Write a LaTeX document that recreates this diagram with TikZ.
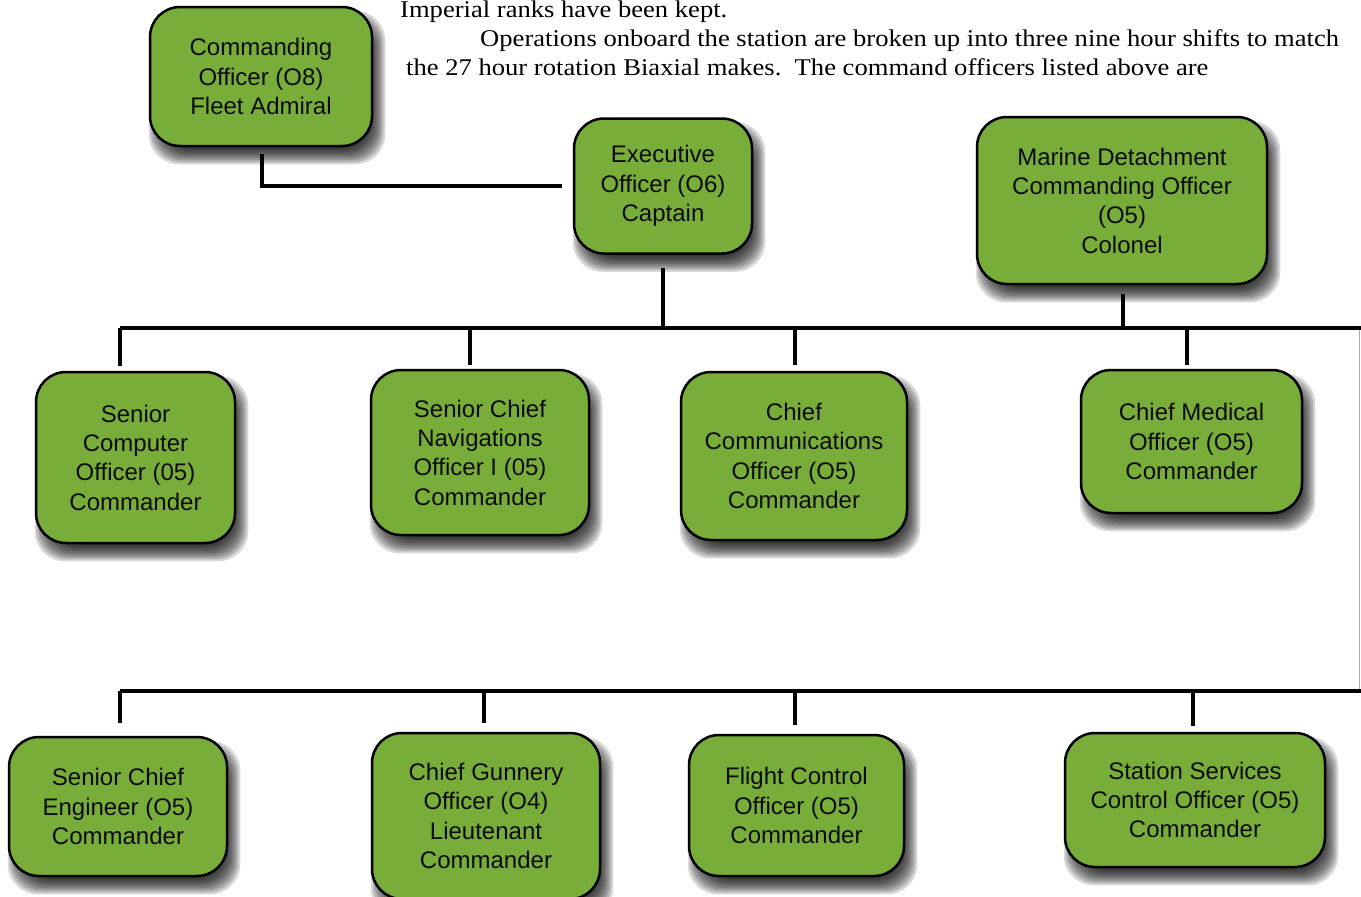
\documentclass[tikz,border=0pt]{standalone}
\usepackage{fontspec}
\setmainfont{Liberation Serif}
\newfontfamily\boxfont{Liberation Sans}
\usetikzlibrary{calc,backgrounds}
\definecolor{rankgreen}{RGB}{120,173,58}
\definecolor{inkblack}{RGB}{12,12,12}
% soft drop shadow behind a named box, built from stacked translucent layers
\newcommand\rankshadow[1]{%
  \begin{scope}[on background layer]
    \foreach \e in {-10,-8,...,6}{%
      \fill[black, opacity=0.16, rounded corners=30pt]
        ($(#1.north west)+(6-\e,11-\e)$) rectangle ($(#1.south east)+(6+\e,11+\e)$);
    }
  \end{scope}}
\newcommand\prosetext[1]{\scalebox{1.108}[1]{#1}}
\begin{document}
\begin{tikzpicture}[x=1pt,y=-1pt,
  rankbox/.style={draw=black, line width=2.5pt, fill=rankgreen, rounded corners=30pt,
    align=center, inner sep=0pt, text=inkblack,
    font=\boxfont\fontsize{24}{29.3}\selectfont},
  conn/.style={draw=black, line width=4pt},
  bus/.style={draw=black, line width=4.5pt},
  prose/.style={anchor=base west, inner sep=0pt, text=black,
    font=\fontsize{24}{29}\selectfont}]
\useasboundingbox (0,0) rectangle (1361,897);

% running text above the chart
\node[prose] (p1) at (400,17) {\prosetext{Imperial ranks have been kept.}};
\node[prose] (p2) at (480,46) {\prosetext{Operations onboard the station are broken up into three nine hour shifts to match}};
\node[prose] (p3) at (406,75) {\prosetext{the 27 hour rotation Biaxial makes.\ \ The command officers listed above are}};

% command level
\node[rankbox, minimum width=222pt, minimum height=139pt] (co) at (261,76.5)
  {Commanding\\Officer (O8)\\Fleet Admiral};
\node[rankbox, minimum width=178pt, minimum height=135pt] (xo) at (663,186)
  {Executive\\Officer (O6)\\Captain};
\node[rankbox, minimum width=290pt, minimum height=167pt] (md) at (1122,200.5)
  {Marine Detachment\\Commanding Officer\\(O5)\\Colonel};

% department heads, first row
\node[rankbox, minimum width=199pt, minimum height=171pt] (sco) at (135.5,457.5)
  {Senior\\Computer\\Officer (05)\\Commander};
\node[rankbox, minimum width=218pt, minimum height=165pt] (scn) at (480,452.5)
  {Senior Chief\\Navigations\\Officer I (05)\\Commander};
\node[rankbox, minimum width=226pt, minimum height=168pt] (cco) at (794,456)
  {Chief\\Communications\\Officer (O5)\\Commander};
\node[rankbox, minimum width=221pt, minimum height=143pt] (cmo) at (1191.5,441.5)
  {Chief Medical\\Officer (O5)\\Commander};

% department heads, second row
\node[rankbox, minimum width=218pt, minimum height=139pt] (sce) at (118,806.5)
  {Senior Chief\\Engineer (O5)\\Commander};
\node[rankbox, minimum width=228pt, minimum height=166pt] (cgo) at (486,816)
  {Chief Gunnery\\Officer (O4)\\Lieutenant\\Commander};
\node[rankbox, minimum width=215pt, minimum height=141pt] (fco) at (796.5,805.5)
  {Flight Control\\Officer (O5)\\Commander};
\node[rankbox, minimum width=260pt, minimum height=134pt] (ssc) at (1195,800)
  {Station Services\\Control Officer (O5)\\Commander};

\foreach \n in {co,xo,md,sco,scn,cco,cmo,sce,cgo,fco,ssc}{\rankshadow{\n}}

% bus lines
\coordinate (busAl) at (120,328);
\coordinate (busAr) at (1363,328);
\coordinate (busBl) at (120,691);
\coordinate (busBr) at (1363,691);
\draw[bus] (busAl) -- (busAr);
\draw[bus] (busBl) -- (busBr);
\draw[draw=gray!70, line width=1pt] (1359.5,330) -- (1359.5,689);

% command connectors
\draw[conn] ([yshift=-7pt]co.south -| 262,0) |- ([xshift=-11pt]xo.west);
\draw[conn] ([yshift=-13pt]xo.south) -- (xo.south |- busAl);
\draw[conn] ([yshift=-9pt]md.south -| 1123,0) -- (1123,328);

% drops to the first row
\draw[conn] (busAl) -- (120,366);
\draw[conn] (470,328) -- ([yshift=4pt]scn.north -| 470,0);
\draw[conn] (795,328) -- ([yshift=6pt]cco.north -| 795,0);
\draw[conn] (1187,328) -- ([yshift=4pt]cmo.north -| 1187,0);

% drops to the second row
\draw[conn] (busBl) -- (120,723);
\draw[conn] (484,691) -- (484,723);
\draw[conn] (795,691) -- (795,725);
\draw[conn] (1193,691) -- (1193,726);
\end{tikzpicture}
\end{document}
